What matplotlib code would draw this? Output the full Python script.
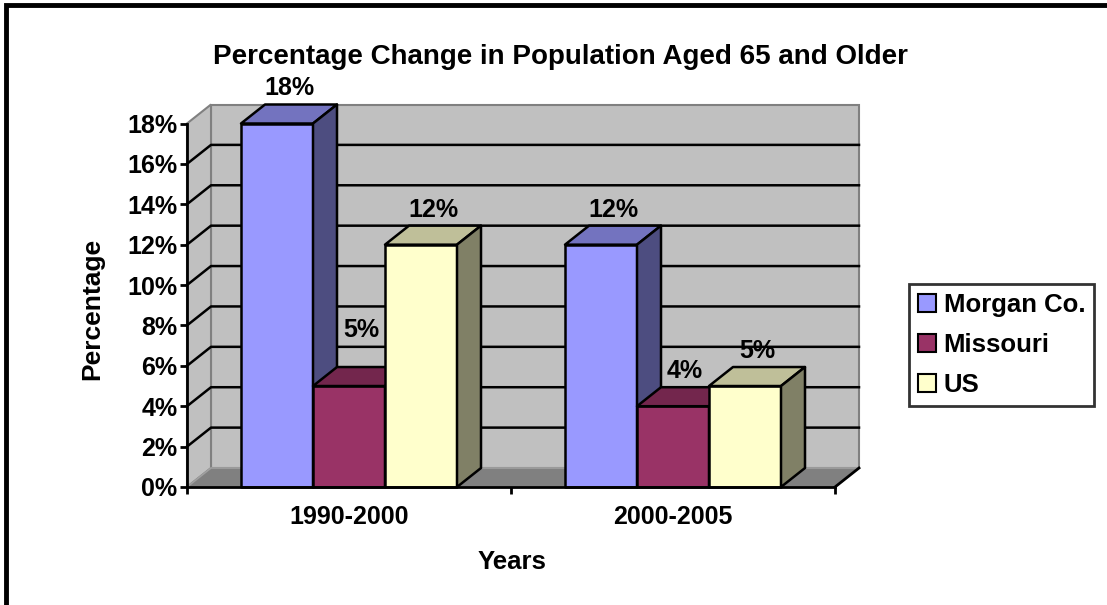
import matplotlib
matplotlib.use("Agg")
import matplotlib.pyplot as plt
from matplotlib.patches import Rectangle, Polygon, Patch

plt.rcParams['font.family'] = ['Liberation Sans', 'DejaVu Sans']
plt.rcParams['font.weight'] = 'bold'

# Data
periods = ['1990-2000', '2000-2005']
series = ['Morgan Co.', 'Missouri', 'US']
values = [
    [18, 5, 12],   # 1990-2000
    [12, 4, 5],    # 2000-2005
]
yticks = [0, 2, 4, 6, 8, 10, 12, 14, 16, 18]

# face / top / side shades for each series
front_colors = ['#9999FF', '#993366', '#FFFFCC']
top_colors = ['#7373BF', '#73264D', '#BFBF99']
side_colors = ['#4D4D80', '#4D1A33', '#808066']

W, H = 1107, 605
fig = plt.figure(figsize=(W / 100, H / 100), dpi=100)
fig.patch.set_facecolor('white')

# outer chart frame (left and top edges)
fig.patches.append(Rectangle((6 / W, -0.1), 1.2, (H - 5) / H + 0.1, transform=fig.transFigure,
                             fill=False, edgecolor='black', linewidth=3.5))

ax = fig.add_axes([187 / W, (H - 487) / H, 648 / W, (487 - 123.5) / H])
ax.set_xlim(-0.5, 1.5)
ax.set_ylim(0, 18)
ax.patch.set_visible(False)

# depth offset of the 3-D box, in data units
dx = 24 / 648 * 2
dy = 19 / ((487 - 123.5) / 18)
x0, x1 = -0.5, 1.5
ymax = 18

# walls and floor
ax.add_patch(Rectangle((x0 + dx, dy), x1 - x0, ymax, facecolor='#C0C0C0', edgecolor='#808080',
                       linewidth=1.5, clip_on=False, zorder=0.5))
ax.add_patch(Polygon([(x0, 0), (x0 + dx, dy), (x0 + dx, ymax + dy), (x0, ymax)], closed=True,
                     facecolor='#C0C0C0', edgecolor='#808080', linewidth=1.5, clip_on=False, zorder=0.6))
ax.add_patch(Polygon([(x0, 0), (x1, 0), (x1 + dx, dy), (x0 + dx, dy)], closed=True,
                     facecolor='#808080', edgecolor='#A0A0A0', linewidth=1.2, clip_on=False, zorder=0.7))
ax.plot([x1, x1 + dx], [0, dy], color='black', lw=2, clip_on=False, zorder=1)

# gridlines along side wall and back wall
for v in yticks[1:-1]:
    ax.plot([x0, x0 + dx, x1 + dx], [v, v + dy, v + dy], color='black', lw=1.8,
            clip_on=False, zorder=1)

# bars
bw = 1 / 4.5
k = 0
for i, row in enumerate(values):
    for j, v in enumerate(row):
        left = i + (j - 1) * bw - bw / 2
        z = 3 + k * 0.1
        k += 1
        kw = dict(edgecolor='black', linewidth=1.8, clip_on=False, zorder=z, joinstyle='round')
        ax.add_patch(Rectangle((left, 0), bw, v, facecolor=front_colors[j], **kw))
        ax.add_patch(Polygon([(left, v), (left + bw, v), (left + bw + dx, v + dy), (left + dx, v + dy)],
                             closed=True, facecolor=top_colors[j], **kw))
        ax.add_patch(Polygon([(left + bw, 0), (left + bw + dx, dy), (left + bw + dx, v + dy), (left + bw, v)],
                             closed=True, facecolor=side_colors[j], **kw))
        lift = 18 if (i, j) == (0, 1) else 3
        ax.annotate(f'{v}%', (left + bw / 2 + dx / 2, v + dy), xytext=(0, lift),
                    textcoords='offset points', ha='center', va='bottom',
                    fontsize=18, fontweight='bold', zorder=10, annotation_clip=False)

# axes
for s in ['top', 'right']:
    ax.spines[s].set_visible(False)
for s in ['left', 'bottom']:
    ax.spines[s].set_linewidth(2)
    ax.spines[s].set_zorder(5)
ax.set_yticks(yticks)
ax.set_yticklabels([f'{t}%' for t in yticks], fontsize=18, fontweight='bold')
ax.tick_params(axis='y', direction='out', length=5, width=2, pad=2)
ax.set_xticks([-0.5, 0.5, 1.5])
ax.set_xticklabels([])
ax.tick_params(axis='x', which='major', direction='out', length=5, width=2)
ax.set_xticks([0, 1], minor=True)
ax.set_xticklabels(periods, minor=True, fontsize=18, fontweight='bold')
ax.tick_params(axis='x', which='minor', length=0, pad=13)

fig.text(560 / W, 1 - 57 / H, 'Percentage Change in Population Aged 65 and Older',
         ha='center', va='center', fontsize=20, fontweight='bold')
fig.text(512 / W, 1 - 562 / H, 'Years', ha='center', va='center', fontsize=18.5, fontweight='bold')
fig.text(92 / W, 1 - 309 / H, 'Percentage', ha='center', va='center', rotation=90,
         fontsize=19, fontweight='bold')

handles = [Patch(facecolor=c, edgecolor='black', linewidth=1.5) for c in front_colors]
leg = fig.legend(handles, series, loc='upper left', bbox_to_anchor=(909 / W, 1 - 284 / H),
                 frameon=True, fancybox=False, edgecolor='black', fontsize=18.5,
                 handlelength=0.7, handleheight=0.7, handletextpad=0.3,
                 labelspacing=0.62, borderpad=0.35, borderaxespad=0)
leg.get_frame().set_linewidth(2)
for t in leg.get_texts():
    t.set_fontweight('bold')

fig.savefig('out.png', dpi=100)
